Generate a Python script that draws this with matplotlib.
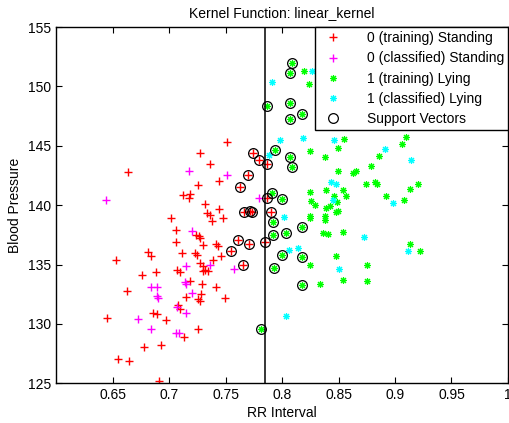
import matplotlib
matplotlib.use("Agg")
import matplotlib.pyplot as plt

plt.rcParams['font.family'] = ['Liberation Sans', 'DejaVu Sans']

# 0 (training) Standing
red_x = [0.6639, 0.7272, 0.7366, 0.7513, 0.7440, 0.7254, 0.7127, 0.7189, 0.7177, 0.7322, 0.7440,
         0.7628, 0.7697, 0.7747, 0.7794, 0.7871, 0.7871, 0.7900, 0.7661, 0.7720, 0.7732, 0.7614,
         0.7708, 0.7853, 0.7552, 0.7655,
         0.7333, 0.7362, 0.7479, 0.7384, 0.7021, 0.7062, 0.7062, 0.7236, 0.7265, 0.7272, 0.7296,
         0.7419, 0.7437, 0.6814, 0.6844, 0.7118, 0.7227, 0.7243, 0.7464, 0.7389, 0.6528, 0.7272,
         0.7296, 0.7316, 0.7346, 0.7302, 0.7071, 0.7101, 0.6882, 0.6756, 0.7183, 0.7290, 0.7419,
         0.6632, 0.7287, 0.7154, 0.7257, 0.7272, 0.7493, 0.7080, 0.7101, 0.6858, 0.6889, 0.6977,
         0.6451, 0.7257, 0.7130, 0.6779, 0.6933, 0.6552, 0.6646, 0.6912]
red_y = [142.79, 144.39, 143.46, 145.34, 142.06, 141.67, 140.82, 140.97, 140.60, 140.13, 139.70,
         141.50, 142.56, 144.41, 143.80, 143.46, 140.63, 139.39, 139.39, 139.54, 139.39, 137.10,
         136.76, 136.87, 136.18, 135.00,
         139.34, 139.20, 138.92, 138.64, 138.92, 137.88, 136.93, 137.52, 137.44, 137.24, 136.62,
         136.74, 136.60, 136.07, 135.70, 135.98, 135.98, 135.76, 135.70, 135.42, 135.42, 135.14,
         134.86, 134.58, 134.44, 134.44, 134.58, 134.35, 134.35, 134.08, 133.60, 133.32, 133.13,
         132.76, 132.48, 132.28, 132.10, 131.92, 132.20, 131.55, 131.28, 130.94, 130.80, 130.32,
         130.46, 129.60, 128.92, 128.05, 128.19, 127.02, 126.88, 125.20]

# 0 (classified) Standing
mag_x = [0.6446, 0.7177, 0.7516, 0.7799, 0.7201, 0.7154, 0.7360, 0.7575, 0.7139, 0.7154, 0.6844,
         0.6894, 0.6889, 0.6904, 0.7207, 0.7068, 0.7148, 0.6726, 0.6844, 0.7059, 0.7089]
mag_y = [140.40, 142.90, 142.50, 140.63, 137.80, 134.86, 134.92, 134.66, 133.55, 133.38, 133.13,
         133.13, 132.34, 132.20, 132.56, 131.45, 130.94, 130.38, 129.60, 129.26, 129.20]

# 1 (training) Lying
grn_x = [0.7871, 0.7935, 0.7915, 0.8089, 0.8074, 0.8074, 0.8175, 0.8074, 0.8074, 0.8089, 0.7997,
         0.7920, 0.7920, 0.8035, 0.8174, 0.8000, 0.8174, 0.7933, 0.8174, 0.7818,
         0.8195, 0.8239, 0.8245, 0.8499, 0.8378, 0.8546, 0.9095, 0.9062, 0.8858, 0.8499, 0.8628,
         0.8658, 0.8791, 0.8741, 0.8820, 0.8843, 0.8385, 0.8245, 0.8540, 0.8565, 0.8919, 0.9136,
         0.9206, 0.9080, 0.8260, 0.8296, 0.8458, 0.8489, 0.8387, 0.8422, 0.8496, 0.8245, 0.8378,
         0.8251, 0.8378, 0.8481, 0.8363, 0.8407, 0.8540, 0.8251, 0.8481, 0.8752, 0.9136, 0.9225,
         0.8334, 0.8540, 0.8752]
grn_y = [148.34, 144.66, 141.00, 151.95, 151.16, 148.59, 147.69, 147.24, 144.08, 143.18, 140.55,
         138.59, 137.50, 137.66, 138.17, 135.78, 135.65, 134.72, 133.24, 129.60,
         151.30, 150.18, 144.52, 144.81, 144.02, 145.59, 145.73, 145.11, 144.16, 142.84, 142.71,
         142.90, 143.26, 141.81, 141.92, 141.81, 141.24, 141.08, 141.30, 140.80, 140.80, 141.36,
         141.78, 140.46, 140.32, 140.04, 140.74, 140.24, 139.76, 139.96, 139.48, 139.06, 139.06,
         138.92, 138.78, 139.39, 137.66, 137.58, 137.71, 135.00, 135.70, 135.00, 136.76, 136.12,
         133.40, 133.68, 133.60]

# 1 (classified) Lying
cyn_x = [0.7915, 0.7882, 0.8263, 0.7980, 0.8190, 0.8458, 0.8915, 0.9145, 0.8431, 0.8475, 0.8983,
         0.8453, 0.8020, 0.8723, 0.8062, 0.8142, 0.8505, 0.9116, 0.8039]
cyn_y = [150.35, 144.22, 151.30, 145.50, 145.64, 145.50, 144.75, 143.77, 141.92, 141.81, 140.18,
         140.46, 139.02, 137.29, 136.20, 136.40, 134.64, 136.12, 130.66]

# support vectors
sv_x = red_x[11:26] + grn_x[:20]
sv_y = red_y[11:26] + grn_y[:20]

boundary_x = 0.7847

fig = plt.figure(figsize=(5.1, 4.23), dpi=100)
ax = fig.add_axes([0.110, 0.094, 0.886, 0.842])

ax.plot(red_x, red_y, '+', color='#ff0000', ms=6, mew=1, label='0 (training) Standing')
ax.plot(mag_x, mag_y, '+', color='#ff00ff', ms=6, mew=1, label='0 (classified) Standing')
ax.plot(grn_x, grn_y, ls='none', marker=(8, 2, 0), color='#00ff00', ms=5, mew=0.8,
        label='1 (training) Lying')
ax.plot(cyn_x, cyn_y, ls='none', marker=(8, 2, 0), color='#00ffff', ms=5, mew=0.8,
        label='1 (classified) Lying')
ax.plot(sv_x, sv_y, 'o', mfc='none', mec='black', ms=7, mew=0.9, label='Support Vectors')
ax.axvline(boundary_x, color='black', lw=1.1)

ax.set_xlim(0.6, 1.0)
ax.set_ylim(125, 155)
ax.set_xticks([0.65, 0.7, 0.75, 0.8, 0.85, 0.9, 0.95, 1.0])
ax.set_xticklabels(['0.65', '0.7', '0.75', '0.8', '0.85', '0.9', '0.95', '1'])
ax.set_yticks([125, 130, 135, 140, 145, 150, 155])
ax.tick_params(direction='in', top=True, right=True, labelsize=10, length=4)
for s in ax.spines.values():
    s.set_linewidth(1.0)

ax.set_title('Kernel Function: linear_kernel', fontsize=10, pad=7)
ax.set_xlabel('RR Interval', fontsize=10, labelpad=3)
ax.set_ylabel('Blood Pressure', fontsize=10, labelpad=4)

leg = ax.legend(loc='upper right', fontsize=10, fancybox=False, framealpha=1,
                edgecolor='black', borderaxespad=0, handletextpad=1.4,
                labelspacing=0.45, borderpad=0.3)
leg.get_frame().set_linewidth(1.0)

fig.savefig('out.png', dpi=100)
